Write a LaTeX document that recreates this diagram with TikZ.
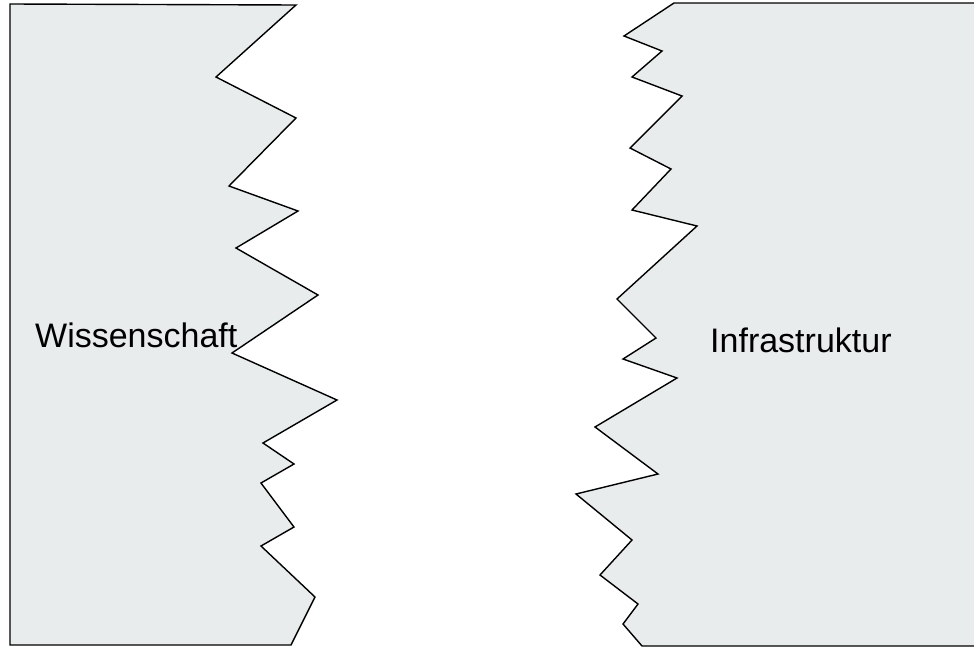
\documentclass[tikz,border=0pt]{standalone}
\usepackage{fontspec}
\setmainfont{Liberation Sans}
\usepackage{xcolor}
\usepackage{tikz}
\definecolor{sheetgray}{RGB}{232,236,237}
\tikzset{
	sheet/.style={draw=black,fill=sheetgray,line width=1.4pt,line join=miter},
	sheetlabel/.style={anchor=base west,inner sep=0pt,font=\fontsize{34}{40}\selectfont}
}

\begin{document}
\begin{tikzpicture}[x=1pt,y=-1pt]
	\useasboundingbox (0,0) rectangle (974,648);
	% left sheet
	\draw[sheet] (10,4) -- (296,5) -- (216,77) -- (296,118) -- (229,186)
		-- (298,211) -- (236,248) -- (318,295) -- (232,353) -- (337,400)
		-- (263,443) -- (294,464) -- (261,483) -- (294,527) -- (261,546)
		-- (315,597) -- (291,645) -- (10,645) -- cycle;
	% right sheet
	\draw[sheet] (980,3) -- (674,3) -- (624,36) -- (662,51) -- (632,77)
		-- (682,96) -- (630,148) -- (671,169) -- (632,210) -- (697,226)
		-- (617,299) -- (656,338) -- (623,359) -- (677,378) -- (595,427)
		-- (658,474) -- (576,494) -- (632,540) -- (600,575) -- (638,604)
		-- (623,624) -- (642,646) -- (980,646);
	% labels
	\node[sheetlabel] (science) at (35,347) {Wissenschaft};
	\node[sheetlabel] (infra) at (710,352) {Infrastruktur};
\end{tikzpicture}
\end{document}
